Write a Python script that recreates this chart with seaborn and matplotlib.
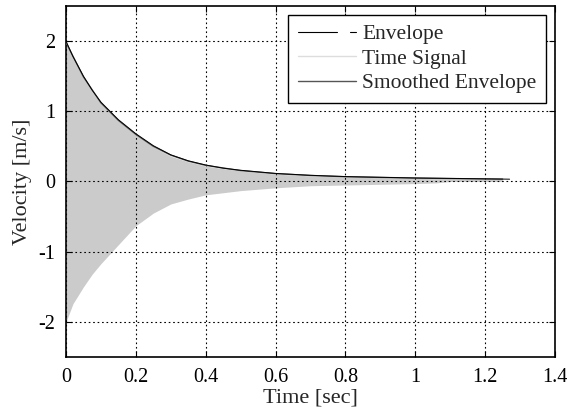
import numpy as np
import pandas as pd
import matplotlib
matplotlib.use("Agg")
import matplotlib.pyplot as plt
import seaborn as sns
from matplotlib.legend_handler import HandlerBase
from matplotlib.lines import Line2D

# Envelope (black)
env_t = [0.0, 0.02, 0.05, 0.075, 0.1, 0.126, 0.15, 0.2, 0.25, 0.3, 0.35, 0.4, 0.45,
         0.5, 0.6, 0.7, 0.8, 0.9, 1.0, 1.1, 1.2, 1.27]
env_v = [2.0, 1.78, 1.5, 1.3, 1.13, 1.0, 0.88, 0.68, 0.51, 0.38, 0.295, 0.235, 0.19,
         0.16, 0.115, 0.088, 0.07, 0.06, 0.05, 0.044, 0.038, 0.033]

# Smoothed envelope (dark gray)
smooth_t = [0.0, 0.05, 0.1, 0.15, 0.2, 0.25, 0.3, 0.35, 0.4, 0.5, 0.6, 0.7, 0.8,
            0.9, 1.0, 1.1, 1.2, 1.25]
smooth_v = [1.98, 1.49, 1.12, 0.87, 0.67, 0.5, 0.375, 0.29, 0.23, 0.155, 0.112, 0.086,
            0.068, 0.058, 0.049, 0.042, 0.036, 0.034]

# Time signal extent (upper / lower swing)
sig_t = [0.0, 0.02, 0.05, 0.075, 0.1, 0.126, 0.15, 0.2, 0.25, 0.3, 0.35, 0.4, 0.5,
         0.6, 0.7, 0.8, 0.9, 1.0, 1.06, 1.1, 1.2, 1.25]
sig_hi = [1.98, 1.76, 1.48, 1.28, 1.11, 0.98, 0.86, 0.66, 0.49, 0.36, 0.28, 0.22, 0.15,
          0.105, 0.08, 0.064, 0.054, 0.045, 0.04, 0.037, 0.032, 0.03]
sig_lo = [-2.0, -1.74, -1.5, -1.32, -1.17, -1.03, -0.9, -0.63, -0.45, -0.32, -0.25,
          -0.19, -0.13, -0.09, -0.06, -0.05, -0.04, -0.03, -0.02, 0.0, 0.0, 0.0]

x_ticks = [0, 0.2, 0.4, 0.6, 0.8, 1, 1.2, 1.4]
x_labels = ["0", "0.2", "0.4", "0.6", "0.8", "1", "1.2", "1.4"]
y_ticks = [-2, -1, 0, 1, 2]
y_labels = ["-2", "-1", "0", "1", "2"]

sns.set_style("ticks")
plt.rcParams["font.family"] = ["Liberation Serif", "DejaVu Serif"]

fig = plt.figure(figsize=(5.71, 4.17), dpi=100)
ax = fig.add_axes([0.1156, 0.1439, 0.8564, 0.8417])

sig_color = "#cbcbcb"
ax.fill_between(sig_t, sig_lo, sig_hi, color=sig_color, linewidth=0, zorder=2)

env_df = pd.DataFrame({"t": env_t, "v": env_v})
smooth_df = pd.DataFrame({"t": smooth_t, "v": smooth_v})
sns.lineplot(data=smooth_df, x="t", y="v", ax=ax, color="#555555", linewidth=1.0, zorder=3)
sns.lineplot(data=env_df, x="t", y="v", ax=ax, color="black", linewidth=0.7, zorder=4)

ax.set_xlim(0, 1.4)
ax.set_ylim(-2.5, 2.5)
ax.set_xticks(x_ticks)
ax.set_xticklabels(x_labels)
ax.set_yticks(y_ticks)
ax.set_yticklabels(y_labels)
ax.grid(True, color="black", linestyle=(0, (1.5, 2.5)), linewidth=0.8)
ax.set_axisbelow(False)
ax.tick_params(direction="in", top=True, right=True, length=4, width=0.8,
               labelsize=14.5, pad=8, colors="black")
for s in ax.spines.values():
    s.set_visible(True)
    s.set_color("black")
    s.set_linewidth(1.2)
ax.set_xlabel("Time [sec]", fontsize=16, labelpad=1)
ax.set_ylabel("Velocity [m/s]", fontsize=16, labelpad=4)


class EnvHandler(HandlerBase):
    def create_artists(self, legend, orig_handle, xdescent, ydescent, width, height,
                       fontsize, trans):
        y = height / 2 - ydescent
        l1 = Line2D([-xdescent, -xdescent + width * 0.67], [y, y], color="black", lw=0.8)
        l2 = Line2D([-xdescent + width * 0.9, -xdescent + width], [y, y], color="black", lw=0.8)
        for l in (l1, l2):
            l.set_transform(trans)
        return [l1, l2]


h_env = Line2D([], [], color="black", lw=0.8)
h_sig = Line2D([], [], color="#dddddd", lw=1.0)
h_smo = Line2D([], [], color="#555555", lw=1.0)
leg = ax.legend([h_env, h_sig, h_smo], ["Envelope", "Time Signal", "Smoothed Envelope"],
                handler_map={h_env: EnvHandler()}, loc="upper right", fontsize=15.5,
                frameon=True, fancybox=False, edgecolor="black", framealpha=1,
                handlelength=2.7, handletextpad=0.3, borderpad=0.45, borderaxespad=0.4,
                labelspacing=0.2)
leg.get_frame().set_linewidth(1.0)
leg.set_zorder(10)

fig.savefig("out.png", dpi=100)
